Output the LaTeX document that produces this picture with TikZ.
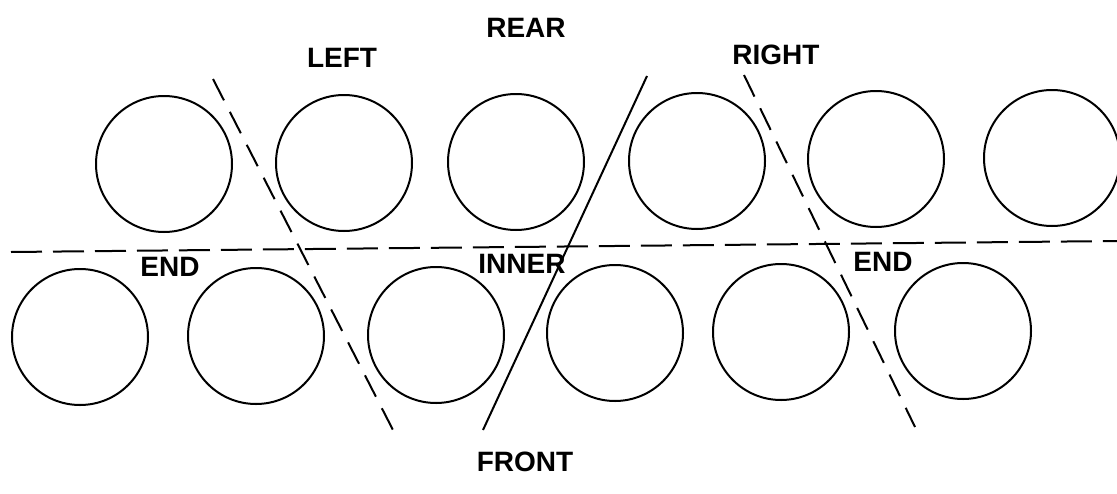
\documentclass[tikz,border=0pt]{standalone}
\usepackage{fontspec}
\setmainfont{Liberation Sans}
\begin{document}
\begin{tikzpicture}[x=1pt,y=-1pt,
  roll/.style={draw=black,circle,line width=2pt,minimum size=136pt,inner sep=0pt},
  lbl/.style={font=\fontsize{28}{30}\selectfont\bfseries,inner sep=0pt,anchor=center},
  divline/.style={line width=2pt,dash pattern=on 24pt off 13pt},
  hline/.style={line width=2pt,dash pattern=on 31pt off 11pt},
  sline/.style={line width=2pt}]
\useasboundingbox (0,0) rectangle (1117,493);
% top row
\node[roll] (t1) at (164,164) {};
\node[roll] (t2) at (344,163) {};
\node[roll] (t3) at (516,162) {};
\node[roll] (t4) at (697,161) {};
\node[roll] (t5) at (876,159) {};
\node[roll] (t6) at (1052,158) {};
% bottom row
\node[roll] (b1) at (80,337) {};
\node[roll] (b2) at (256,336) {};
\node[roll] (b3) at (436,335) {};
\node[roll] (b4) at (615,333) {};
\node[roll] (b5) at (781,332) {};
\node[roll] (b6) at (963,331) {};
% dividing lines
\coordinate (hl) at (11,252);
\coordinate (hr) at (1117,241);
\draw[hline] (hl) -- (hr);
\coordinate (la) at (213,79);
\coordinate (lb) at (393,430);
\draw[divline] (la) -- (lb);
\coordinate (sa) at (647,76);
\coordinate (sb) at (483,430);
\draw[sline] (sa) -- (sb);
\coordinate (ra) at (744,75);
\coordinate (rb) at (915,427);
\draw[divline] (ra) -- (rb);
% labels
\node[lbl] (rear) at (526,28) {REAR};
\node[lbl] (left) at (342,58) {LEFT};
\node[lbl] (right) at (776,55) {RIGHT};
\node[lbl] (end1) at (170,267) {END};
\node[lbl] (inner) at (522,264) {INNER};
\node[lbl] (end2) at (883,262) {END};
\node[lbl] (front) at (525,462) {FRONT};
\end{tikzpicture}
\end{document}
